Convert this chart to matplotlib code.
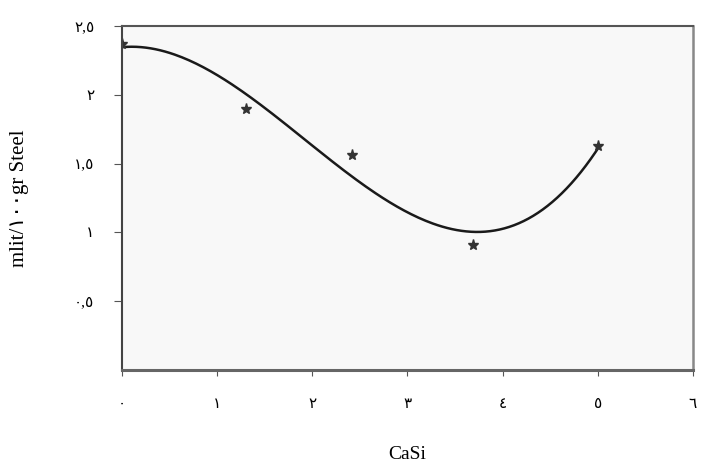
import numpy as np
import matplotlib.pyplot as plt

# ---- DATA ----
casi = [0.0, 1.3, 2.42, 3.69, 5.0]
vol = [2.37, 1.90, 1.56, 0.91, 1.63]

x_ticks = [0, 1, 2, 3, 4, 5, 6]
x_labels = ["٠", "١", "٢", "٣", "٤", "٥", "٦"]
y_ticks = [0.5, 1.0, 1.5, 2.0, 2.5]
y_labels = ["٠,٥", "١", "١,٥", "٢", "٢,٥"]

# cubic trendline
coef = np.polyfit(casi, vol, 3)
xs = np.linspace(0, 5, 200)
ys = np.polyval(coef, xs)

fams = ["Liberation Serif", "DejaVu Sans"]

fig = plt.figure(figsize=(7.02, 4.65), dpi=100)
ax = fig.add_axes([0.1738, 0.2043, 0.8132, 0.7397])
ax.set_facecolor("#f8f8f8")

ax.plot(xs, ys, color="#1a1a1a", lw=1.8)
ax.plot(casi, vol, linestyle="none", marker="*", ms=8, color="#333333")

ax.set_xlim(0, 6)
ax.set_ylim(0, 2.5)
ax.set_xticks(x_ticks)
ax.set_xticklabels(x_labels, fontsize=11, family=fams)
ax.set_yticks(y_ticks)
ax.set_yticklabels(y_labels, fontsize=11, family=fams)
ax.tick_params(axis="x", length=4, pad=16, color="#555555")
ax.tick_params(axis="y", length=6, pad=14, color="#555555")

ax.spines["top"].set_color("#555555")
ax.spines["top"].set_linewidth(1.5)
ax.spines["left"].set_color("#444444")
ax.spines["left"].set_linewidth(1.5)
ax.spines["bottom"].set_color("#666666")
ax.spines["bottom"].set_linewidth(2.2)
ax.spines["right"].set_color("#888888")
ax.spines["right"].set_linewidth(1.8)

ax.set_xlabel("CaSi", fontsize=14, family=fams, labelpad=25)
ax.set_ylabel("mlit/١٠٠gr Steel", fontsize=15, family=fams, labelpad=32)

fig.savefig("out.png", dpi=100, facecolor="white")
